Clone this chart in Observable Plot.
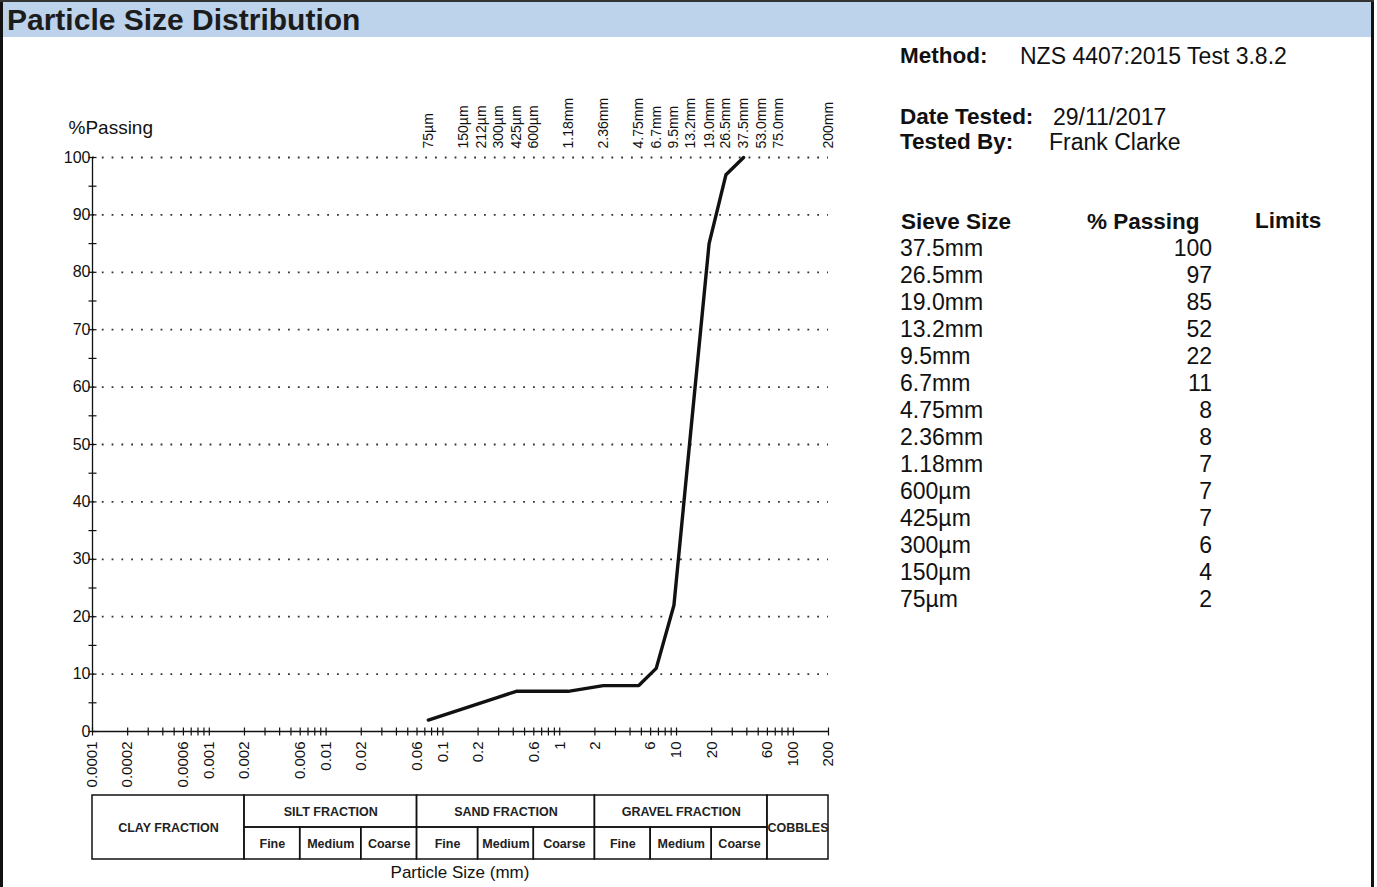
<!DOCTYPE html>
<html>
<head>
<meta charset="utf-8">
<script src="https://cdn.jsdelivr.net/npm/d3@7"></script>
<script src="https://cdn.jsdelivr.net/npm/@observablehq/plot@0.6"></script>
<style>
  html, body { margin: 0; padding: 0; background: #fff; }
  body { width: 1377px; height: 887px; position: relative; overflow: hidden; font-family: Arial, "Liberation Sans", sans-serif; color: #111; }
  .abs { position: absolute; }
  #header { left: 3px; top: 2px; width: 1368px; height: 35px; background: #bdd3ec; }
  #title { left: 7px; top: 2px; font-weight: bold; font-size: 30px; line-height: 35px; color: #1c1c1c; }
  .info { font-size: 23px; white-space: nowrap; line-height: 26px; }
  .b { font-weight: bold; font-size: 22.5px; }
</style>
</head>
<body>
<div id="header" class="abs"></div>
<div id="title" class="abs">Particle Size Distribution</div>
<div class="abs" style="left:0;top:0;width:3px;height:887px;background:#111"></div>
<div class="abs" style="left:1371px;top:0;width:3px;height:887px;background:#111"></div>
<div class="abs" style="left:0;top:0;width:1374px;height:2px;background:#333"></div>

<div id="chart" class="abs" style="left:0;top:80px"></div>
<div id="table" class="abs" style="left:0;top:794px"></div>
<div class="abs" style="left:330px;top:863px;width:260px;text-align:center;font-size:17px;">Particle Size (mm)</div>
<div id="info"></div>

<script>
// ---------- data ----------
const sieveLabels = ["37.5mm","26.5mm","19.0mm","13.2mm","9.5mm","6.7mm","4.75mm","2.36mm","1.18mm","600µm","425µm","300µm","150µm","75µm"];
const sieveSizes  = [37.5, 26.5, 19.0, 13.2, 9.5, 6.7, 4.75, 2.36, 1.18, 0.6, 0.425, 0.3, 0.15, 0.075];
const passing     = [100, 97, 85, 52, 22, 11, 8, 8, 7, 7, 7, 6, 4, 2];

const topLabels = ["75µm","150µm","212µm","300µm","425µm","600µm","1.18mm","2.36mm","4.75mm","6.7mm","9.5mm","13.2mm","19.0mm","26.5mm","37.5mm","53.0mm","75.0mm","200mm"];
const topSizes  = [0.075, 0.15, 0.212, 0.3, 0.425, 0.6, 1.18, 2.36, 4.75, 6.7, 9.5, 13.2, 19.0, 26.5, 37.5, 53.0, 75.0, 200];

const xTickValues = [0.0001, 0.0002, 0.0006, 0.001, 0.002, 0.006, 0.01, 0.02, 0.06, 0.1, 0.2, 0.6, 1, 2, 6, 10, 20, 60, 100, 200];
const xTickLabels = ["0.0001","0.0002","0.0006","0.001","0.002","0.006","0.01","0.02","0.06","0.1","0.2","0.6","1","2","6","10","20","60","100","200"];
const yLabels = [0, 10, 20, 30, 40, 50, 60, 70, 80, 90, 100];
const yGrid = [10, 20, 30, 40, 50, 60, 70, 80, 90, 100];

const fractionNames = ["CLAY FRACTION","SILT FRACTION","SAND FRACTION","GRAVEL FRACTION","COBBLES"];
const fractionFrom  = [0.0001, 0.002, 0.06, 2, 60];
const fractionTo    = [0.002, 0.06, 2, 60, 200];
const fractionSplit = [false, true, true, true, false];
const subNames = ["Fine","Medium","Coarse"];
const subEdges = [0.002, 0.006, 0.02, 0.06, 0.2, 0.6, 2, 6, 20, 60];

const xDomain = [0.0001, 200];
const yDomain = [0, 100];

const method = "NZS 4407:2015 Test 3.8.2";
const dateTested = "29/11/2017";
const testedBy = "Frank Clarke";

// ---------- helpers ----------
const hTick = {draw(ctx, size) { const r = Math.sqrt(size / Math.PI); ctx.moveTo(-r, 0); ctx.lineTo(r, 0); }};
const vTick = {draw(ctx, size) { const r = Math.sqrt(size / Math.PI); ctx.moveTo(0, -r); ctx.lineTo(0, r); }};
const font = "Arial, 'Liberation Sans', sans-serif";

const points = sieveSizes.map((s, i) => ({size: s, pass: passing[i]}));
const minorTicks = d3.scaleLog().domain(xDomain).ticks();
const yMinor = d3.scaleLinear().domain(yDomain).ticks(20);
const topData = topSizes.map((s, i) => ({size: s, label: topLabels[i]}));
const botData = xTickValues.map((v, i) => ({v, label: xTickLabels[i]}));

// ---------- main chart ----------
const chart = Plot.plot({
  width: 860, height: 720,
  marginLeft: 92, marginRight: 32, marginTop: 77, marginBottom: 69,
  style: {background: "transparent", fontFamily: font, overflow: "visible", color: "#111"},
  x: {type: "log", domain: xDomain, axis: null},
  y: {domain: yDomain, axis: null},
  marks: [
    Plot.ruleY(yGrid, {stroke: "#333", strokeWidth: 1.8, strokeDasharray: "1.8,8"}),
    Plot.ruleY([0], {stroke: "#111", strokeWidth: 1.3}),
    Plot.ruleX([xDomain[0]], {y1: 0, y2: 100, stroke: "#111", strokeWidth: 1.3}),
    Plot.dot(minorTicks, {x: d => d, y: 0, symbol: vTick, r: 4, stroke: "#111", fill: "none", strokeWidth: 1.2}),
    Plot.dot(yMinor, {x: xDomain[0], y: d => d, symbol: hTick, r: 4, stroke: "#111", fill: "none", strokeWidth: 1.2}),
    Plot.text(yLabels, {x: xDomain[0], y: d => d, text: d => String(d), textAnchor: "end", dx: -2, fontSize: 16, letterSpacing: "-1px"}),
    Plot.text(["%Passing"], {frameAnchor: "top-left", dx: -24, dy: -37, textAnchor: "start", fontSize: 19, letterSpacing: "-0.8px"}),
    Plot.text(topData, {x: "size", y: yDomain[1], text: "label", rotate: -90, textAnchor: "start", lineAnchor: "middle", dy: -9, fontSize: 14}),
    Plot.text(botData, {x: "v", y: 0, text: "label", rotate: -90, textAnchor: "end", lineAnchor: "middle", dy: 10, fontSize: 15}),
    Plot.line(points, {x: "size", y: "pass", stroke: "#111", strokeWidth: 3.4, strokeLinejoin: "round"})
  ]
});
document.getElementById("chart").appendChild(chart);

// ---------- fraction table ----------
const cells = [];
fractionNames.forEach((name, i) => {
  cells.push({x1: fractionFrom[i], x2: fractionTo[i], y1: fractionSplit[i] ? 1 : 0, y2: 2, label: name});
});
for (let i = 0; i < subEdges.length - 1; i++) {
  cells.push({x1: subEdges[i], x2: subEdges[i + 1], y1: 0, y2: 1, label: subNames[i % 3]});
}
const table = Plot.plot({
  width: 860, height: 66,
  marginLeft: 92, marginRight: 32, marginTop: 1, marginBottom: 1,
  style: {background: "transparent", fontFamily: font, overflow: "visible", color: "#111"},
  x: {type: "log", domain: xDomain, axis: null},
  y: {domain: [0, 2], axis: null},
  marks: [
    Plot.rect(cells, {x1: "x1", x2: "x2", y1: "y1", y2: "y2", fill: "none", stroke: "#111", strokeWidth: 1.5}),
    Plot.text(cells, {x: d => Math.sqrt(d.x1 * d.x2), y: d => (d.y1 + d.y2) / 2, text: "label", fontWeight: "bold", fontSize: 12.5, fill: "#222"})
  ]
});
document.getElementById("table").appendChild(table);

// ---------- info panel ----------
const info = document.getElementById("info");
function addText(txt, left, top, bold, align) {
  const d = document.createElement("div");
  d.className = "abs info" + (bold ? " b" : "");
  d.textContent = txt;
  d.style.top = (top - 13) + "px";
  if (align === "right") { d.style.left = (left - 200) + "px"; d.style.width = "200px"; d.style.textAlign = "right"; }
  else d.style.left = left + "px";
  info.appendChild(d);
}
addText("Method:", 900, 56, true);
addText(method, 1020, 56, false);
addText("Date Tested:", 900, 117, true);
addText(dateTested, 1053, 117, false);
addText("Tested By:", 900, 142, true);
addText(testedBy, 1049, 142, false);
addText("Sieve Size", 901, 222, true);
addText("% Passing", 1087, 222, true);
addText("Limits", 1255, 221, true);
sieveLabels.forEach((lab, i) => {
  addText(lab, 900, 248 + i * 27, false);
  addText(String(passing[i]), 1212, 248 + i * 27, false, "right");
});
</script>
</body>
</html>
